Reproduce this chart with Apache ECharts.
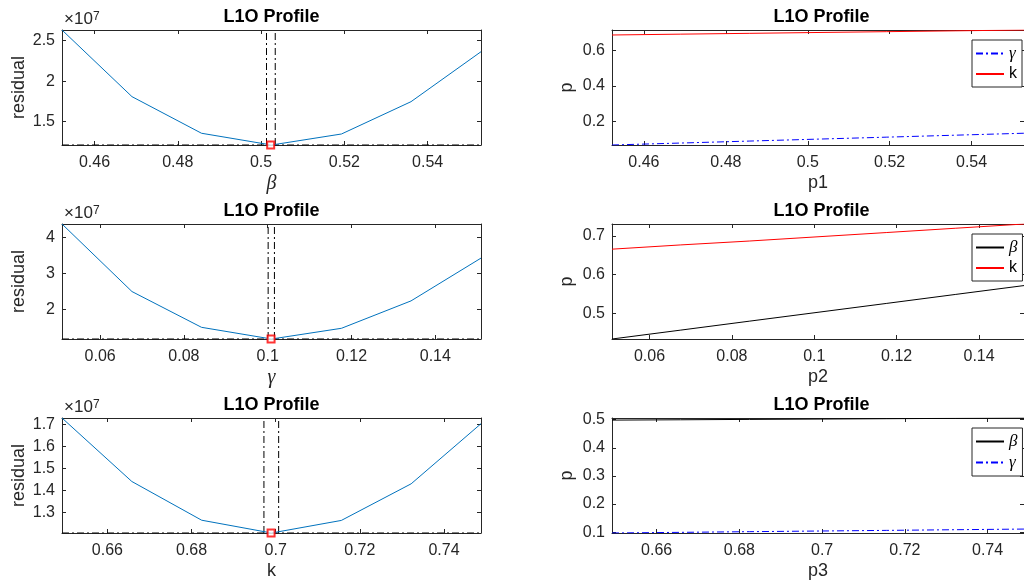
<!DOCTYPE html>
<html lang="en">
<head>
<meta charset="UTF-8">
<title>L1O Profile</title>
<script src="https://cdn.jsdelivr.net/npm/echarts@6/dist/echarts.min.js"></script>
<style>
    * { margin: 0; padding: 0; }
    body { background: #fff; overflow: hidden; }
    #main { width: 1024px; height: 585px; }
</style>
</head>
<body>
<div id="main"></div>
<script type="text/javascript">

    // parameter grids used for the leave-one-out profiles
    var betaGrid  = [0.4522, 0.4690, 0.4857, 0.5025, 0.5193, 0.5360, 0.5528];
    var gammaGrid = [0.0509, 0.0676, 0.0842, 0.1009, 0.1176, 0.1342, 0.1509];
    var kGrid     = [0.6492, 0.6658, 0.6824, 0.6990, 0.7156, 0.7322, 0.7488];

    // residuals along each profile
    var betaResidual  = [2.632e7, 1.809e7, 1.357e7, 1.212e7, 1.348e7, 1.747e7, 2.364e7];
    var gammaResidual = [4.370e7, 2.496e7, 1.504e7, 1.180e7, 1.477e7, 2.237e7, 3.424e7];
    var kResidual     = [1.730e7, 1.4405e7, 1.264e7, 1.2057e7, 1.263e7, 1.430e7, 1.704e7];

    // estimate (red square) and the two dash-dot bounds
    var betaBest = 0.5023,  betaBounds  = [0.5013, 0.5034];
    var gammaBest = 0.1008, gammaBounds = [0.1001, 0.1016];
    var kBest = 0.6989,     kBounds     = [0.6972, 0.7007];

    // other parameters re-fitted along each profile
    var p1Gamma = [0.069, 0.080, 0.091, 0.102, 0.113, 0.124, 0.135];
    var p1K     = [0.686, 0.6907, 0.6953, 0.700, 0.7047, 0.7093, 0.714];
    var p2Beta  = [0.434, 0.457, 0.480, 0.503, 0.526, 0.549, 0.572];
    var p2K     = [0.666, 0.677, 0.687, 0.698, 0.709, 0.720, 0.731];
    var p3Beta  = [0.4985, 0.4997, 0.501, 0.5022, 0.5035, 0.5047, 0.506];
    var p3Gamma = [0.097, 0.0993, 0.1017, 0.104, 0.1063, 0.1087, 0.111];

    // tick labels
    var betaTicks  = [0.46, 0.48, 0.5, 0.52, 0.54];
    var gammaTicks = [0.06, 0.08, 0.1, 0.12, 0.14];
    var kTicks     = [0.66, 0.68, 0.7, 0.72, 0.74];
    var res1Ticks  = [1.5e7, 2e7, 2.5e7];
    var res2Ticks  = [2e7, 3e7, 4e7];
    var res3Ticks  = [1.3e7, 1.4e7, 1.5e7, 1.6e7, 1.7e7];
    var p1Ticks    = [0.2, 0.4, 0.6];
    var p2Ticks    = [0.5, 0.6, 0.7];
    var p3Ticks    = [0.1, 0.2, 0.3, 0.4, 0.5];

    var FONT = 'Liberation Sans, Helvetica, Arial, sans-serif';
    var TEX = 'Liberation Serif, DejaVu Serif, serif';
    var AXC = '#262626';
    var DASHDOT = [7, 3, 2, 3];

    function pairs(xs, ys) {
        return xs.map(function (x, i) { return [x, ys[i]]; });
    }
    function lo(a) { return Math.min.apply(null, a); }
    function hi(a) { return Math.max.apply(null, a); }
    function fmt(v) { return String(+v.toFixed(3)); }
    function fmt7(v) { return String(+(v / 1e7).toFixed(2)); }

    var tops = [30, 224, 418];
    var lefts = [62, 612];
    var W = 419, H = 115;

    var option = {
        backgroundColor: '#fff',
        animation: false,
        grid: [], xAxis: [], yAxis: [], series: [], title: [], legend: [],
        graphic: []
    };

    function addPanel(p) {
        var gi = option.grid.length;
        option.grid.push({left: p.left, top: p.top, width: W, height: H, containLabel: false});

        var tick = {inside: true, length: 4, lineStyle: {color: AXC, width: 1}};
        var line = {show: true, onZero: false, lineStyle: {color: AXC, width: 1}};

        option.xAxis.push({
            type: 'value', gridIndex: gi, position: 'bottom', min: p.xmin, max: p.xmax,
            name: p.xname, nameLocation: 'middle', nameGap: 29,
            nameTextStyle: p.xnameStyle,
            axisLine: line,
            axisTick: Object.assign({customValues: p.xticks}, tick),
            axisLabel: {customValues: p.xticks, formatter: fmt, margin: 10, color: AXC,
                        fontSize: 16, fontFamily: FONT},
            splitLine: {show: false}
        });
        option.xAxis.push({
            type: 'value', gridIndex: gi, position: 'top', min: p.xmin, max: p.xmax,
            axisLine: line,
            axisTick: Object.assign({customValues: p.xticks}, tick),
            axisLabel: {show: false}, splitLine: {show: false}
        });
        option.yAxis.push({
            type: 'value', gridIndex: gi, position: 'left', min: p.ymin, max: p.ymax,
            name: p.yname, nameLocation: 'middle', nameGap: p.ynameGap,
            nameTextStyle: {fontSize: 18, color: AXC, fontFamily: FONT},
            axisLine: line,
            axisTick: Object.assign({customValues: p.yticks}, tick),
            axisLabel: {customValues: p.yticks, formatter: p.yfmt, margin: 7, color: AXC,
                        fontSize: 16, fontFamily: FONT},
            splitLine: {show: false}
        });
        option.yAxis.push({
            type: 'value', gridIndex: gi, position: 'right', min: p.ymin, max: p.ymax,
            axisLine: line,
            axisTick: Object.assign({customValues: p.yticks}, tick),
            axisLabel: {show: false}, splitLine: {show: false}
        });

        option.title.push({
            text: 'L1O Profile', left: p.left + W / 2, top: p.top - 22, textAlign: 'center',
            padding: 0,
            textStyle: {fontSize: 18, fontWeight: 'bold', color: '#000', fontFamily: FONT}
        });

        return {xAxisIndex: 2 * gi, yAxisIndex: 2 * gi};
    }

    function sansName() { return {fontSize: 18, color: AXC, fontFamily: FONT}; }
    function texName() { return {fontSize: 20, color: AXC, fontFamily: TEX, fontStyle: 'italic'}; }

    // left column: residual profiles
    var profiles = [
        {grid: betaGrid, res: betaResidual, best: betaBest, bounds: betaBounds,
         yticks: res1Ticks, xticks: betaTicks, xname: 'β', tex: true},
        {grid: gammaGrid, res: gammaResidual, best: gammaBest, bounds: gammaBounds,
         yticks: res2Ticks, xticks: gammaTicks, xname: 'γ', tex: true},
        {grid: kGrid, res: kResidual, best: kBest, bounds: kBounds,
         yticks: res3Ticks, xticks: kTicks, xname: 'k', tex: false}
    ];

    profiles.forEach(function (pr, r) {
        var ymin = lo(pr.res), ymax = hi(pr.res);
        var xmin = lo(pr.grid), xmax = hi(pr.grid);
        var ax = addPanel({
            left: lefts[0], top: tops[r], xmin: xmin, xmax: xmax, ymin: ymin, ymax: ymax,
            xticks: pr.xticks, yticks: pr.yticks, yfmt: fmt7,
            xname: pr.xname, xnameStyle: pr.tex ? texName() : sansName(),
            yname: 'residual', ynameGap: 34
        });
        var dash = {color: '#000', width: 1, type: DASHDOT};
        // threshold along the minimum
        option.series.push({
            type: 'line', xAxisIndex: ax.xAxisIndex, yAxisIndex: ax.yAxisIndex,
            data: [[xmin, ymin], [xmax, ymin]], symbol: 'none', silent: true,
            lineStyle: dash
        });
        // bounds as vertical dash-dot lines
        pr.bounds.forEach(function (b) {
            option.series.push({
                type: 'line', xAxisIndex: ax.xAxisIndex, yAxisIndex: ax.yAxisIndex,
                data: [[b, ymin], [b, ymax]], symbol: 'none', silent: true,
                lineStyle: dash
            });
        });
        option.series.push({
            type: 'line', xAxisIndex: ax.xAxisIndex, yAxisIndex: ax.yAxisIndex,
            data: pairs(pr.grid, pr.res), symbol: 'none', silent: true,
            lineStyle: {color: '#0072BD', width: 1}
        });
        option.series.push({
            type: 'scatter', xAxisIndex: ax.xAxisIndex, yAxisIndex: ax.yAxisIndex,
            data: [[pr.best, ymin]], symbol: 'emptyRect', symbolSize: 7, z: 5, silent: true,
            itemStyle: {color: '#FF0000', borderWidth: 1}
        });
        // x10^7 exponent label
        option.graphic.push({type: 'text', left: 64, top: tops[r] - 19,
            style: {text: '×10', fontSize: 17, fill: AXC, fontFamily: FONT}});
        option.graphic.push({type: 'text', left: 93, top: tops[r] - 19,
            style: {text: '7', fontSize: 12, fill: AXC, fontFamily: FONT}});
    });

    // right column: re-fitted parameters
    var styles = {
        'γ': {color: '#0000FF', width: 1, type: DASHDOT},
        'k': {color: '#FF0000', width: 1, type: 'solid'},
        'β': {color: '#000000', width: 1, type: 'solid'}
    };
    var refits = [
        {grid: betaGrid, lines: [['γ', p1Gamma], ['k', p1K]], yticks: p1Ticks, xname: 'p1'},
        {grid: gammaGrid, lines: [['β', p2Beta], ['k', p2K]], yticks: p2Ticks, xname: 'p2'},
        {grid: kGrid, lines: [['β', p3Beta], ['γ', p3Gamma]], yticks: p3Ticks, xname: 'p3'}
    ];
    var refitXTicks = [betaTicks, gammaTicks, kTicks];

    refits.forEach(function (rf, r) {
        var all = [];
        rf.lines.forEach(function (l) { all = all.concat(l[1]); });
        var ax = addPanel({
            left: lefts[1], top: tops[r], xmin: lo(rf.grid), xmax: hi(rf.grid),
            ymin: lo(all), ymax: hi(all),
            xticks: refitXTicks[r], yticks: rf.yticks, yfmt: fmt,
            xname: rf.xname, xnameStyle: sansName(),
            yname: 'p', ynameGap: 36
        });
        rf.lines.forEach(function (l) {
            option.series.push({
                name: l[0], type: 'line', xAxisIndex: ax.xAxisIndex, yAxisIndex: ax.yAxisIndex,
                data: pairs(rf.grid, l[1]), symbol: 'none', silent: true,
                lineStyle: styles[l[0]], itemStyle: {color: styles[l[0]].color}
            });
        });
        option.legend.push({
            data: rf.lines.map(function (l) { return l[0]; }),
            orient: 'vertical', left: 972, top: tops[r] + 10,
            itemWidth: 28, itemHeight: 14, itemGap: 4,
            padding: [5, 5, 5, 3],
            backgroundColor: '#fff', borderColor: '#262626', borderWidth: 1,
            selectedMode: false,
            itemStyle: {opacity: 0},
            formatter: function (name) {
                return name === 'k' ? name : '{g|' + name + '}';
            },
            textStyle: {
                fontSize: 16, color: '#000', fontFamily: FONT,
                rich: {g: {fontSize: 17, fontFamily: TEX, fontStyle: 'italic', color: '#000'}}
            }
        });
    });

    var myChart = echarts.init(document.getElementById('main'));
    myChart.setOption(option);
</script>
</body>
</html>
